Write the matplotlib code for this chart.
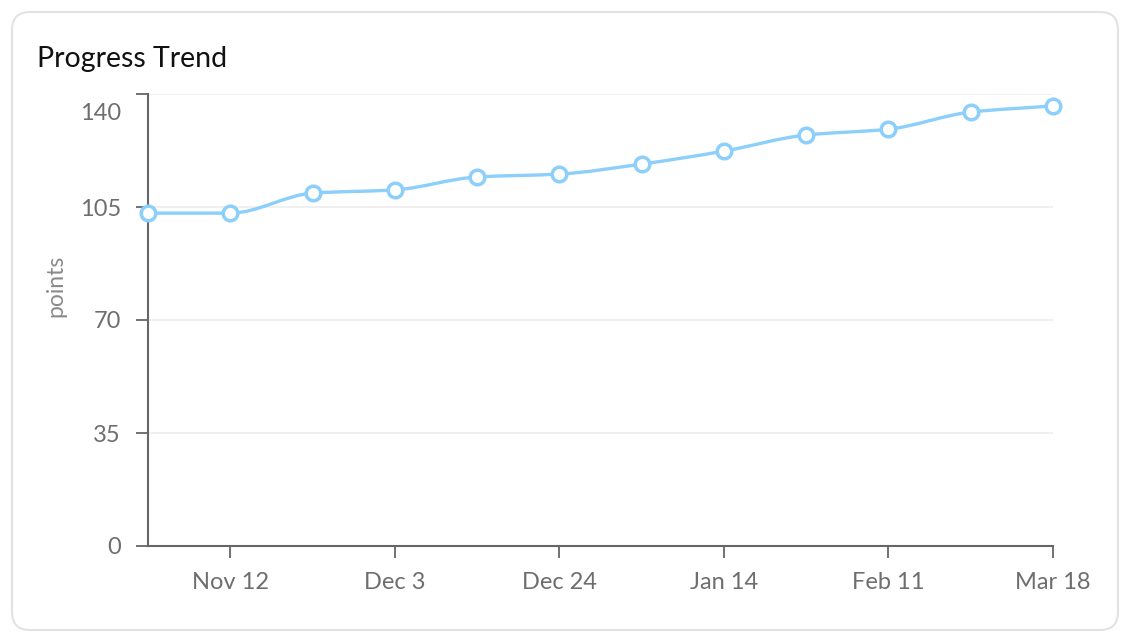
import matplotlib
matplotlib.use('Agg')
import matplotlib.pyplot as plt
import matplotlib.transforms as mtransforms
from matplotlib.path import Path
from matplotlib.patches import PathPatch, FancyBboxPatch
import numpy as np

plt.rcParams['font.family'] = ['Lato', 'DejaVu Sans']

# data
points = [103.1, 103.1, 109.3, 110.3, 114.3, 115.2, 118.3, 122.3, 127.3, 129.1, 134.4, 136.3]
tick_idx = [1, 3, 5, 7, 9, 11]
tick_labels = ['Nov 12', 'Dec 3', 'Dec 24', 'Jan 14', 'Feb 11', 'Mar 18']
y_ticks = [0, 35, 70, 105, 140]

line_color = '#8ccffb'
axis_color = '#666666'
text_color = '#6e6e6e'


def smooth_path(x, y):
    # monotone cubic through the points, drawn as bezier segments
    x = np.asarray(x, float)
    y = np.asarray(y, float)
    h = np.diff(x)
    d = np.diff(y) / h
    m = np.zeros_like(y)
    m[0], m[-1] = d[0], d[-1]
    for i in range(1, len(y) - 1):
        if d[i - 1] * d[i] <= 0:
            m[i] = 0
        else:
            m[i] = 2 * d[i - 1] * d[i] / (d[i - 1] + d[i])
    verts = [(x[0], y[0])]
    codes = [Path.MOVETO]
    for i in range(len(y) - 1):
        verts += [(x[i] + h[i] / 3, y[i] + m[i] * h[i] / 3),
                  (x[i + 1] - h[i] / 3, y[i + 1] - m[i + 1] * h[i] / 3),
                  (x[i + 1], y[i + 1])]
        codes += [Path.CURVE4] * 3
    return Path(verts, codes)


W, H = 1130, 642
fig = plt.figure(figsize=(W / 100, H / 100), dpi=100)

card = FancyBboxPatch((12, 12), 1106, 618, boxstyle='round,pad=0,rounding_size=18',
                      transform=mtransforms.IdentityTransform(),
                      facecolor='none', edgecolor='#e2e2e2', linewidth=1.5, zorder=-5)
fig.patches.append(card)

fig.text(37 / W, 1 - 67 / H, 'Progress Trend', fontsize=20.5, color='#111111',
         va='baseline', ha='left')

ax = fig.add_axes([148 / W, 96 / H, (1053 - 148) / W, (546 - 94) / H])
ax.set_facecolor('none')

x = np.arange(len(points))
ax.add_patch(PathPatch(smooth_path(x, points), fill=False, edgecolor=line_color,
                       linewidth=2.4, zorder=3, capstyle='round'))
ax.plot(x, points, 'o', ls='none', markersize=10.5, markerfacecolor='white',
        markeredgecolor=line_color, markeredgewidth=2.5, zorder=4, clip_on=False)

ax.set_xlim(0, len(points) - 1)
ax.set_ylim(0, 140)
ax.set_xticks(tick_idx)
ax.set_xticklabels(tick_labels)
ax.set_yticks(y_ticks)
ax.set_yticklabels([str(v) for v in y_ticks])

ax.grid(axis='y', color='#eeeeee', linewidth=1.2)
ax.set_axisbelow(True)
for s in ['top', 'right']:
    ax.spines[s].set_visible(False)
for s in ['left', 'bottom']:
    ax.spines[s].set_color(axis_color)
    ax.spines[s].set_linewidth(1.5)

ax.tick_params(axis='both', colors=axis_color, labelcolor=text_color,
               labelsize=17, length=8.5, width=1.3)
ax.tick_params(axis='y', pad=11)
ax.tick_params(axis='x', pad=10)

# top y label sits lower than its tick
top_lbl = ax.get_yticklabels()[-1]
top_lbl.set_transform(top_lbl.get_transform() +
                      mtransforms.ScaledTranslation(0, -0.18, fig.dpi_scale_trans))

ax.set_ylabel('points', fontsize=16.5, color='#8a8a8a')
ax.yaxis.label.set_va('center')
ax.yaxis.set_label_coords((56 - 148) / 905, (546 - 286) / 452)

fig.savefig('out.png', dpi=100, facecolor='white')
